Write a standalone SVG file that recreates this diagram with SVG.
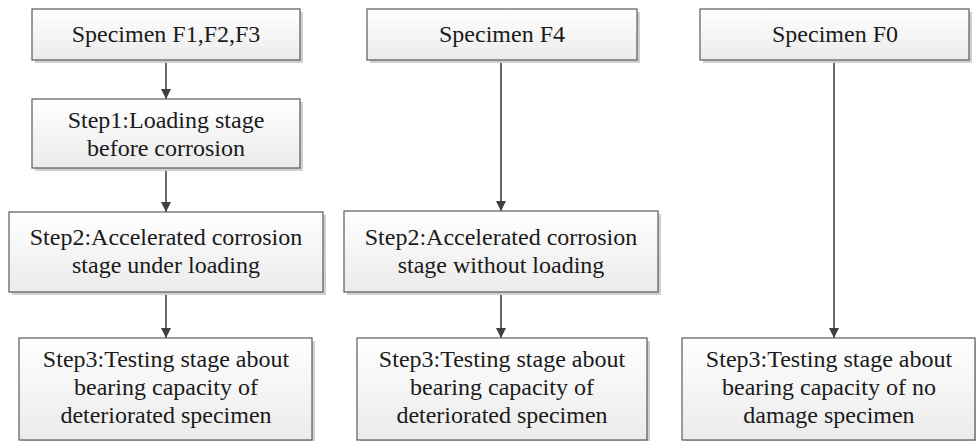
<svg xmlns="http://www.w3.org/2000/svg" width="976" height="441" viewBox="0 0 976 441">
<defs>
<linearGradient id="g" x1="0" y1="0" x2="0" y2="1">
<stop offset="0" stop-color="#ffffff"/>
<stop offset="1" stop-color="#ebebeb"/>
</linearGradient>
<marker id="ah" markerWidth="10" markerHeight="10" refX="10" refY="5" orient="auto" markerUnits="userSpaceOnUse">
<path d="M0,0 L10,5 L0,10 Z" fill="#404040"/>
</marker>
</defs>
<style>
.sh{fill:#d0d0d0;}
.bx{fill:url(#g);stroke:#5a5a5a;stroke-width:1.2;}
.t{font-family:"Liberation Serif","Times New Roman",serif;font-size:24px;fill:#1a1a1a;text-anchor:middle;}
.c{stroke:#404040;stroke-width:1.6;fill:none;marker-end:url(#ah);}
</style>
<rect width="976" height="441" fill="#ffffff"/>
<g id="connectors">
<line class="c" x1="166" y1="60" x2="166" y2="99"/>
<line class="c" x1="166" y1="168" x2="166" y2="212"/>
<line class="c" x1="166" y1="292" x2="166" y2="338"/>
<line class="c" x1="501" y1="60" x2="501" y2="211"/>
<line class="c" x1="501" y1="292" x2="501" y2="338"/>
<line class="c" x1="834" y1="60" x2="834" y2="338"/>
</g>
<g id="n1">
<rect class="sh" x="35" y="12" width="268" height="51"/>
<rect class="bx" x="32" y="9" width="268" height="51"/>
<text class="t" x="166" y="42">Specimen F1,F2,F3</text>
</g>
<g id="n2">
<rect class="sh" x="35" y="102" width="268" height="69"/>
<rect class="bx" x="32" y="99" width="268" height="69"/>
<text class="t" x="166" y="128">Step1:Loading stage</text>
<text class="t" x="166" y="156">before corrosion</text>
</g>
<g id="n3">
<rect class="sh" x="12" y="215" width="314" height="80"/>
<rect class="bx" x="9" y="212" width="314" height="80"/>
<text class="t" x="166" y="245">Step2:Accelerated corrosion</text>
<text class="t" x="166" y="273">stage under loading</text>
</g>
<g id="n4">
<rect class="sh" x="22" y="341" width="293" height="102"/>
<rect class="bx" x="19" y="338" width="293" height="102"/>
<text class="t" x="166" y="367">Step3:Testing stage about</text>
<text class="t" x="166" y="395">bearing capacity of</text>
<text class="t" x="166" y="423">deteriorated specimen</text>
</g>
<g id="n5">
<rect class="sh" x="370" y="12" width="270" height="51"/>
<rect class="bx" x="367" y="9" width="270" height="51"/>
<text class="t" x="502" y="42">Specimen F4</text>
</g>
<g id="n6">
<rect class="sh" x="347" y="214" width="314" height="81"/>
<rect class="bx" x="344" y="211" width="314" height="81"/>
<text class="t" x="501" y="245">Step2:Accelerated corrosion</text>
<text class="t" x="501" y="273">stage without loading</text>
</g>
<g id="n7">
<rect class="sh" x="360" y="341" width="290" height="102"/>
<rect class="bx" x="357" y="338" width="290" height="102"/>
<text class="t" x="502" y="367">Step3:Testing stage about</text>
<text class="t" x="502" y="395">bearing capacity of</text>
<text class="t" x="502" y="423">deteriorated specimen</text>
</g>
<g id="n8">
<rect class="sh" x="703" y="12" width="269" height="51"/>
<rect class="bx" x="700" y="9" width="269" height="51"/>
<text class="t" x="835" y="42">Specimen F0</text>
</g>
<g id="n9">
<rect class="sh" x="685" y="341" width="293" height="102"/>
<rect class="bx" x="682" y="338" width="293" height="102"/>
<text class="t" x="829" y="367">Step3:Testing stage about</text>
<text class="t" x="829" y="395">bearing capacity of no</text>
<text class="t" x="829" y="423">damage specimen</text>
</g>
</svg>
